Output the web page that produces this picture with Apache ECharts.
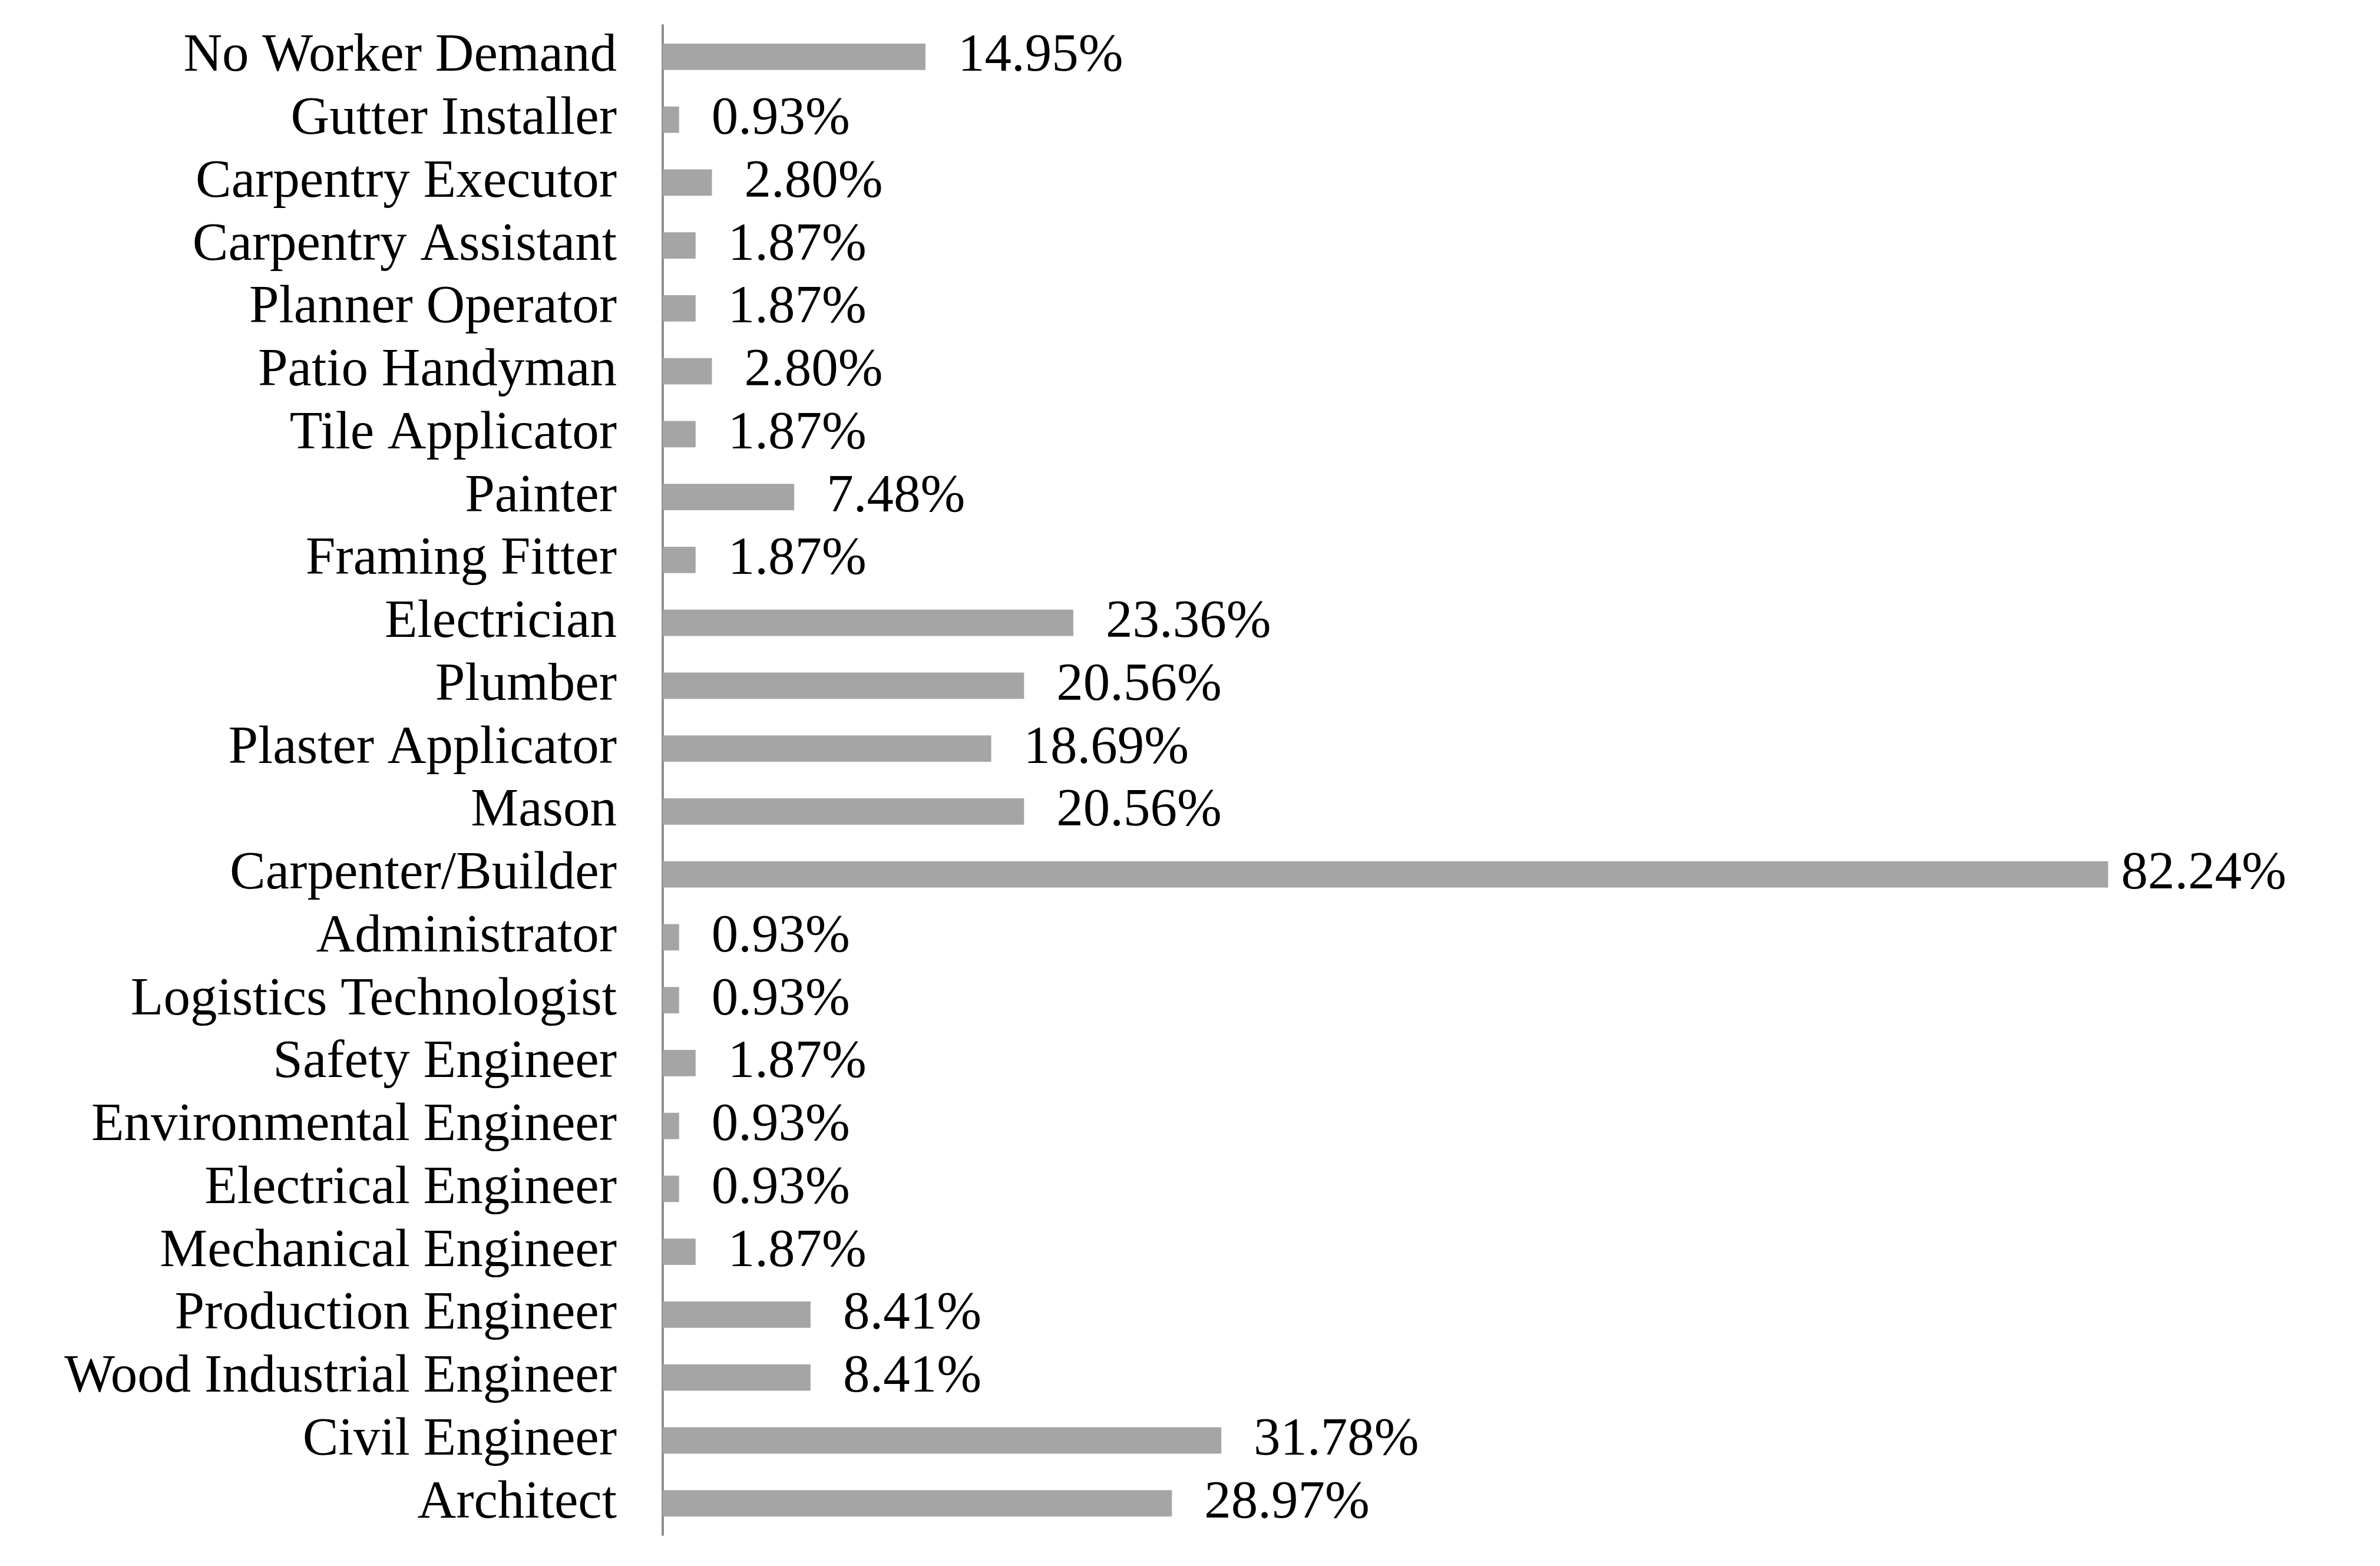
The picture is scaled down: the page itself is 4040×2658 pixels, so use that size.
<!DOCTYPE html>
<html>
<head>
<meta charset="utf-8">
<script src="https://cdn.jsdelivr.net/npm/echarts@6/dist/echarts.min.js"></script>
<style>
html,body{margin:0;padding:0;background:#fff;}
#c{width:4040px;height:2658px;}
</style>
</head>
<body>
<div id="c"></div>
<script>
var categories = ["No Worker Demand","Gutter Installer","Carpentry Executor","Carpentry Assistant","Planner Operator","Patio Handyman","Tile Applicator","Painter","Framing Fitter","Electrician","Plumber","Plaster Applicator","Mason","Carpenter/Builder","Administrator","Logistics Technologist","Safety Engineer","Environmental Engineer","Electrical Engineer","Mechanical Engineer","Production Engineer","Wood Industrial Engineer","Civil Engineer","Architect"];
var values = [14.95,0.93,2.80,1.87,1.87,2.80,1.87,7.48,1.87,23.36,20.56,18.69,20.56,82.24,0.93,0.93,1.87,0.93,0.93,1.87,8.41,8.41,31.78,28.97];

var maxVal = Math.max.apply(null, values);
var seriesData = values.map(function(v){
  var item = {value: v};
  if (v === maxVal) { item.label = {distance: 22}; }
  return item;
});

var chart = echarts.init(document.getElementById('c'), null, {renderer:'canvas'});
chart.setOption({
  animation: false,
  backgroundColor: '#ffffff',
  grid: {left: 1125, top: 43, height: 2562, width: 2685, containLabel: false},
  xAxis: {
    type: 'value', min: 0, max: 90, show: false
  },
  yAxis: {
    type: 'category',
    data: categories,
    inverse: true,
    axisLine: {show: true, lineStyle: {color: '#8c8c8c', width: 4}},
    axisTick: {show: false},
    axisLabel: {
      interval: 0,
      margin: 78,
      padding: [10, 0, 0, 0],
      color: '#000000',
      fontFamily: '"Liberation Serif", "Times New Roman", serif',
      fontSize: 91
    }
  },
  series: [{
    type: 'bar',
    data: seriesData,
    barCategoryGap: '58%',
    itemStyle: {color: '#a5a5a5'},
    label: {
      show: true,
      position: 'right',
      distance: 55,
      padding: [10, 0, 0, 0],
      color: '#000000',
      fontFamily: '"Liberation Serif", "Times New Roman", serif',
      fontSize: 91,
      formatter: function(p){ return p.value.toFixed(2) + '%'; }
    }
  }]
});
</script>
</body>
</html>
